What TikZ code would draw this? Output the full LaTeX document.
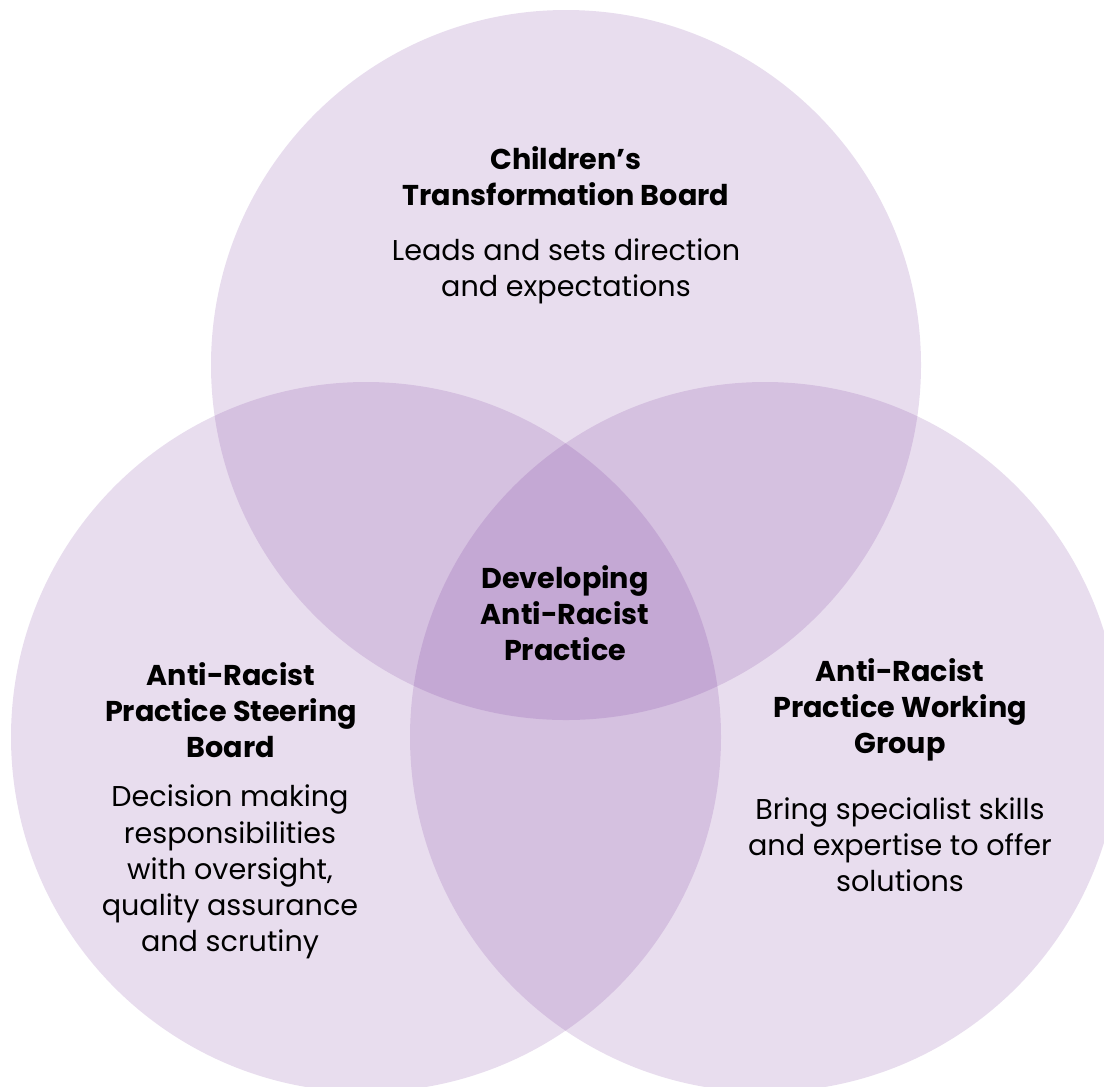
\documentclass[tikz,border=0pt]{standalone}
\usepackage{fontspec}
\setmainfont{Poppins}
\usepackage{tikz}

\definecolor{venn}{RGB}{102,28,142}

\tikzset{
 ring/.style={fill=venn, fill opacity=0.15},
 title/.style={align=center, inner sep=0pt, font=\fontsize{16.3}{20.6}\selectfont\bfseries},
 body/.style={align=center, inner sep=0pt, font=\fontsize{16.3}{20.6}\selectfont}
}

\begin{document}
\begin{tikzpicture}[x=0.02cm, y=-0.02cm]
 \useasboundingbox (0,0) rectangle (1104,1086);
 \clip (0,0) rectangle (1104,1086);
 % the three circles
 \fill[ring] (566,365) circle (355);
 \fill[ring] (366,737) circle (355);
 \fill[ring] (765,737) circle (355);
 % top
 \node[title] (topT) at (566,176) {Children’s\\Transformation Board};
 \node[body] (topB) at (566,271) {Leads and sets direction\\and expectations};
 % middle
 \node[title] (midT) at (565,613) {Developing\\Anti-Racist\\Practice};
 % left
 \node[title] (leftT) at (231,710) {Anti-Racist\\Practice Steering\\Board};
 \node[body] (leftB) at (230,872) {Decision making\\responsibilities\\with oversight,\\quality assurance\\and scrutiny};
 % right
 \node[title] (rightT) at (900,710) {Anti-Racist\\Practice Working\\Group};
 \node[body] (rightB) at (900,845) {Bring specialist skills\\and expertise to offer\\solutions};
\end{tikzpicture}
\end{document}
